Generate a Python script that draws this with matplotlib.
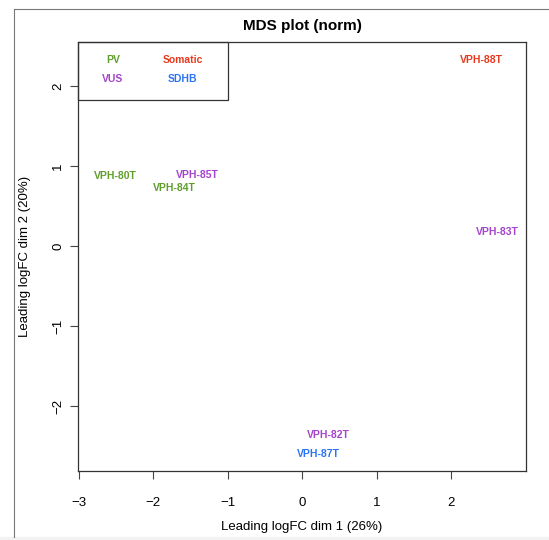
import matplotlib
matplotlib.use("Agg")
import matplotlib.pyplot as plt
from matplotlib.lines import Line2D
from matplotlib.patches import Rectangle

plt.rcParams['font.family'] = ['Liberation Sans', 'DejaVu Sans']

# sample positions on the two leading dimensions
samples = ['VPH-88T', 'VPH-83T', 'VPH-80T', 'VPH-85T', 'VPH-84T', 'VPH-82T', 'VPH-87T']
dim1 = [2.40, 2.62, -2.51, -1.41, -1.72, 0.35, 0.21]
dim2 = [2.33, 0.18, 0.875, 0.89, 0.725, -2.36, -2.60]
groups = ['Somatic', 'VUS', 'PV', 'VUS', 'PV', 'VUS', 'SDHB']

group_names = ['PV', 'Somatic', 'VUS', 'SDHB']
group_colors = {'PV': '#5f9e2b', 'Somatic': '#e8391d', 'VUS': '#a443cc', 'SDHB': '#2a73f5'}

xticks = [-3, -2, -1, 0, 1, 2]
yticks = [-2, -1, 0, 1, 2]

fig = plt.figure(figsize=(5.49, 5.40), dpi=100)
ax = fig.add_axes([78/549, 1 - 471/540, 448/549, 429/540])

for s, x, y, g in zip(samples, dim1, dim2, groups):
    ax.text(x, y, s, color=group_colors[g], fontsize=7.5, fontweight='bold',
            ha='center', va='center')

ax.set_xlim(-3.01, 3.0)
ax.set_ylim(-2.81, 2.55)
ax.set_xticks(xticks)
ax.set_yticks(yticks)
ax.set_xticklabels([str(t).replace('-', '\u2212') for t in xticks])
ax.set_yticklabels([str(t).replace('-', '\u2212') for t in yticks],
                   rotation=90, va='center')
ax.tick_params(length=6, width=0.8, labelsize=9.5, pad=13, color='#444444')
ax.tick_params(axis='y', pad=4)
for sp in ax.spines.values():
    sp.set_color('#333333')
    sp.set_linewidth(0.9)

ax.set_title('MDS plot (norm)', fontsize=11, fontweight='bold', pad=9)
ax.set_xlabel('Leading logFC dim 1 (26%)', fontsize=9.5, va='center')
ax.set_ylabel('Leading logFC dim 2 (20%)', fontsize=9.5, va='center')
ax.xaxis.set_label_coords(0.5, -(527 - 471) / 429)
ax.yaxis.set_label_coords((25 - 78) / 448, 0.5)

# legend box in top-left corner
box = Rectangle((78/549, 1 - 100/540), 150/549, 58/540, transform=fig.transFigure,
                fill=False, edgecolor='#333333', linewidth=0.9)
fig.add_artist(box)
leg_pos = [(113, 60), (183, 60), (113, 79), (183, 79)]
for name, (px, py) in zip(group_names, leg_pos):
    fig.text(px/549, 1 - py/540, name, color=group_colors[name], fontsize=7.5,
             fontweight='bold', ha='center', va='center')

# screenshot frame lines
fig.add_artist(Line2D([14/549, 1], [1 - 9/540, 1 - 9/540], color='#777777', lw=0.8))
fig.add_artist(Line2D([14/549, 14/549], [1 - 9/540, 1 - 537/540], color='#777777', lw=0.8))
fig.add_artist(Rectangle((0, 0), 1, 3/540, transform=fig.transFigure,
                         color='#f2f2f2', zorder=-1))

fig.savefig('out.png', dpi=100)
